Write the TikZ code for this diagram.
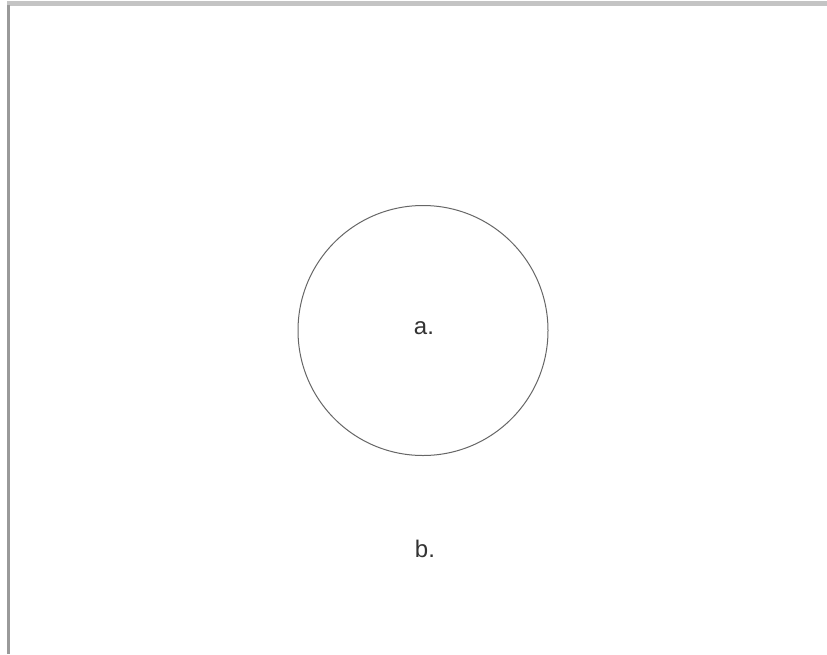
\documentclass[tikz,border=0pt]{standalone}
\usepackage{fontspec}
\setmainfont{Liberation Sans}
\definecolor{topbar}{HTML}{C4C4C4}
\definecolor{leftbar}{HTML}{9A9A9A}
\definecolor{circ}{HTML}{666666}
\definecolor{txt}{HTML}{333333}
\tikzset{
  lbl/.style={font=\fontsize{24}{28}\selectfont, text=txt, inner sep=0pt},
  ring/.style={circle, draw=circ, line width=1pt, minimum size=250pt, inner sep=0pt}
}
\begin{document}
\begin{tikzpicture}[x=1pt,y=-1pt]
\useasboundingbox (0,0) rectangle (827,654);
\fill[white] (0,0) rectangle (827,654);
\fill[topbar] (7,1) rectangle (827,6);
\fill[leftbar] (7,5) rectangle (9.5,654);
\node[ring] (c) at (423,330.5) {};
\node[lbl] (a) at (424,328) {a.};
\node[lbl] (b) at (425,549) {b.};
\end{tikzpicture}
\end{document}
